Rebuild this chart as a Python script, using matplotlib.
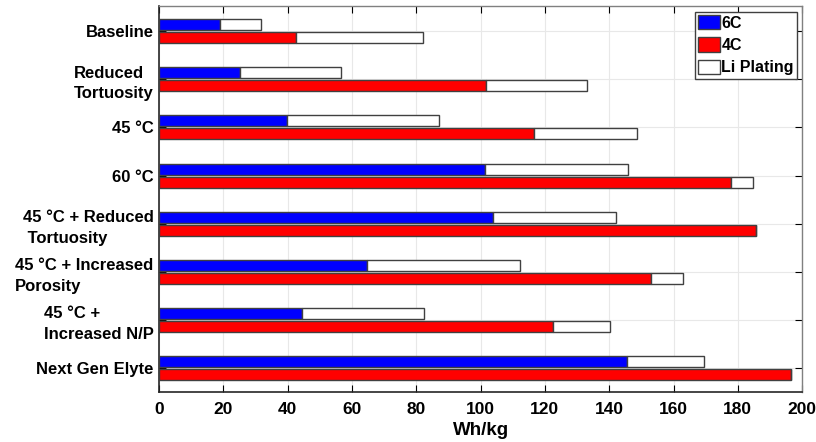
import numpy as np
import matplotlib
matplotlib.use('Agg')
import matplotlib.pyplot as plt
from matplotlib.patches import Patch

plt.rcParams['font.family'] = ['Liberation Sans', 'DejaVu Sans']
plt.rcParams['font.weight'] = 'bold'

# Data (Wh/kg)
categories = ['Baseline', 'Reduced\nTortuosity', '45 °C', '60 °C',
              '45 °C + Reduced\n Tortuosity', '45 °C + Increased\nPorosity',
              '45 °C +\nIncreased N/P', 'Next Gen Elyte']
energy_6c = [19.0, 25.3, 39.8, 101.5, 103.7, 64.8, 44.5, 145.6]
plating_6c = [31.7, 56.5, 87.0, 145.7, 142.0, 112.4, 82.5, 169.5]
energy_4c = [42.5, 101.8, 116.7, 178.0, 185.7, 153.0, 122.5, 196.5]
plating_4c = [82.2, 133.2, 148.7, 184.8, 185.7, 162.8, 140.2, 196.5]
xticks = [0, 20, 40, 60, 80, 100, 120, 140, 160, 180, 200]

fig = plt.figure(figsize=(8.16, 4.42), dpi=100)
ax = fig.add_axes([0.195, 0.113, 0.788, 0.873])

y = np.arange(len(categories))
h = 0.23
off = 0.135
edge = '#404040'

e6 = np.array(energy_6c)
e4 = np.array(energy_4c)
ax.barh(y - off, e6, height=h, color='#0000ff', edgecolor=edge, linewidth=1, zorder=3)
ax.barh(y - off, np.array(plating_6c) - e6, left=e6, height=h, color='white',
        edgecolor=edge, linewidth=1, zorder=3)
ax.barh(y + off, e4, height=h, color='#ff0000', edgecolor=edge, linewidth=1, zorder=3)
ax.barh(y + off, np.array(plating_4c) - e4, left=e4, height=h, color='white',
        edgecolor=edge, linewidth=1, zorder=3)

ax.set_xlim(0, 200)
ax.set_ylim(len(categories) - 0.5, -0.52)
ax.set_xticks(xticks)
ax.set_yticks(y)
ax.set_yticklabels(categories, multialignment='left', fontsize=12,
                   fontweight='bold', linespacing=1.45)
ax.tick_params(axis='x', labelsize=12.5, direction='in', top=True, length=5, pad=7)
ax.tick_params(axis='y', direction='in', right=True, length=5, pad=4)
for lbl in ax.get_xticklabels():
    lbl.set_fontweight('bold')
ax.set_xlabel('Wh/kg', fontsize=13.5, fontweight='bold', labelpad=4)

ax.grid(True, color='#e8e8e8', linewidth=0.8, zorder=0)
ax.set_axisbelow(True)

for s in ['left', 'bottom']:
    ax.spines[s].set_color('#262626')
    ax.spines[s].set_linewidth(1.2)
for s in ['top', 'right']:
    ax.spines[s].set_color('#808080')
    ax.spines[s].set_linewidth(1.0)

handles = [Patch(facecolor='#0000ff', edgecolor='#404040', label='6C'),
           Patch(facecolor='#ff0000', edgecolor='#404040', label='4C'),
           Patch(facecolor='white', edgecolor='#404040', label='Li Plating')]
leg = ax.legend(handles=handles, loc='upper right', bbox_to_anchor=(0.992, 0.985),
                fancybox=False, framealpha=1, edgecolor='#404040',
                prop={'weight': 'bold', 'size': 11.5}, handlelength=1.35,
                handleheight=1.0, handletextpad=0.1, borderpad=0.2,
                labelspacing=0.42, borderaxespad=0)
leg.get_frame().set_linewidth(1.0)

fig.savefig('out.png', dpi=100)
